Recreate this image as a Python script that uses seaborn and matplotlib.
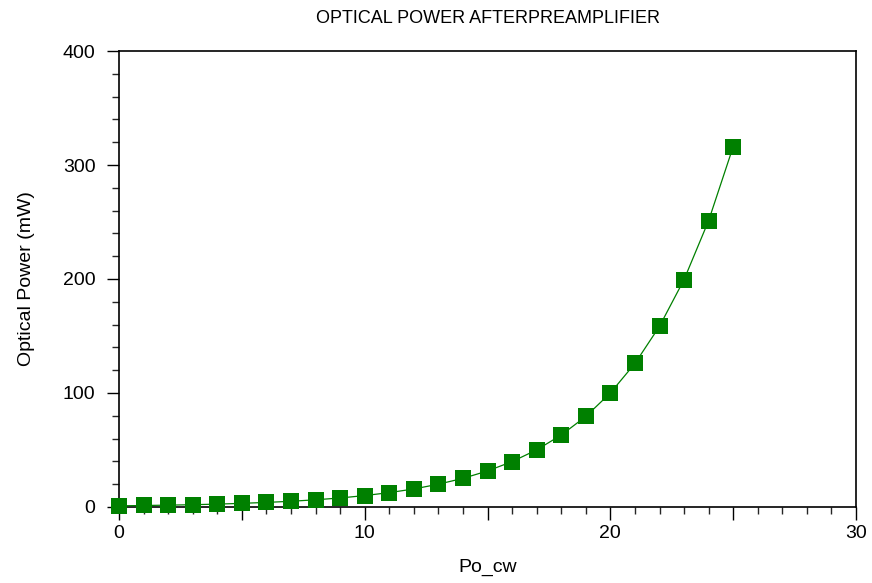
import matplotlib
matplotlib.use("Agg")
import matplotlib.pyplot as plt
import seaborn as sns
import numpy as np
import pandas as pd
from matplotlib.ticker import MultipleLocator, FuncFormatter

# values
po_cw = [0, 1, 2, 3, 4, 5, 6, 7, 8, 9, 10, 11, 12, 13, 14, 15, 16, 17, 18, 19,
         20, 21, 22, 23, 24, 25]
power_mw = [1.0, 1.3, 1.6, 2.0, 2.5, 3.2, 4.0, 5.0, 6.3, 7.9, 10.0, 12.6, 15.8,
            20.0, 25.1, 31.6, 39.8, 50.1, 63.1, 79.4, 100.0, 125.9, 158.5,
            199.5, 251.2, 316.2]

df = pd.DataFrame({"Po_cw": po_cw, "power": power_mw})

sns.set_style("white")
plt.rcParams['font.family'] = ['Liberation Sans', 'DejaVu Sans']
plt.rcParams['text.color'] = 'black'
plt.rcParams['axes.labelcolor'] = 'black'

fig = plt.figure(figsize=(8.72, 5.83), dpi=100)
ax = fig.add_axes([0.1365, 0.1304, 0.8452, 0.7821])

sns.lineplot(data=df, x="Po_cw", y="power", ax=ax, color="#008000",
             marker="s", markersize=11, markeredgewidth=0, linewidth=0.9,
             clip_on=False, zorder=5)

ax.set_xlim(0, 30)
ax.set_ylim(0, 400)
ax.xaxis.set_major_locator(MultipleLocator(5))
ax.xaxis.set_minor_locator(MultipleLocator(1))
ax.xaxis.set_major_formatter(FuncFormatter(lambda v, p: f"{v:.0f}" if v % 10 == 0 else ""))
ax.yaxis.set_major_locator(MultipleLocator(100))
ax.yaxis.set_minor_locator(MultipleLocator(20))
ax.tick_params(axis="both", which="major", direction="out", length=9, width=1,
               labelsize=14, bottom=True, left=True, colors="black")
ax.tick_params(axis="x", which="major", pad=4)
ax.tick_params(axis="y", which="major", pad=8)
ax.tick_params(axis="both", which="minor", direction="out", length=5, width=1,
               bottom=True, left=True)
for s in ax.spines.values():
    s.set_color("black")
    s.set_linewidth(1.2)

ax.set_title("OPTICAL POWER AFTERPREAMPLIFIER", fontsize=13, pad=20)
ax.set_xlabel("Po_cw", fontsize=14, labelpad=12)
ax.set_ylabel("Optical Power (mW)", fontsize=14, labelpad=20)

fig.savefig("out.png", dpi=100)
